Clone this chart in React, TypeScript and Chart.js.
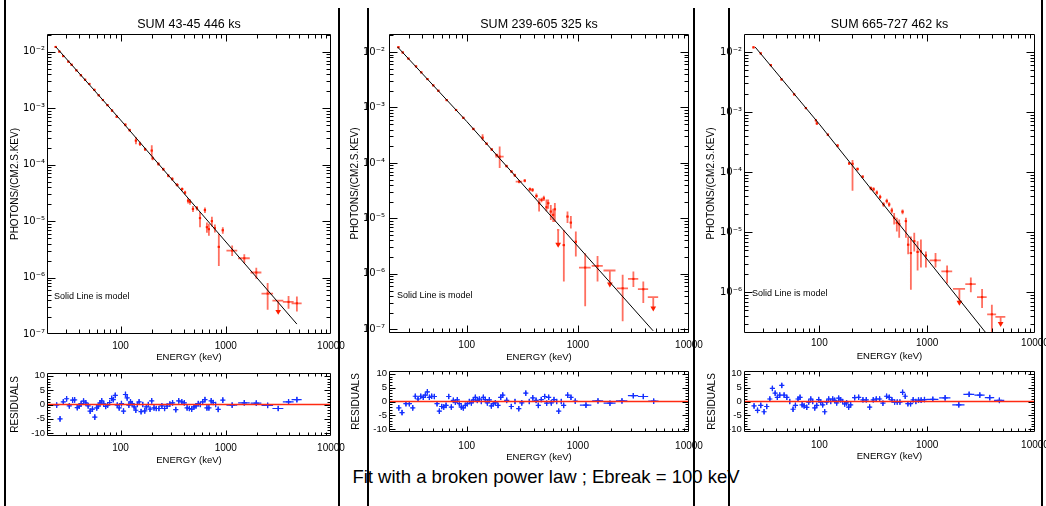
import React, { useEffect, useRef } from "react";
import { Chart, registerables } from "chart.js";

Chart.register(...registerables);

const FONT = '"Liberation Sans", Arial, Helvetica, sans-serif';
const SUP_FONT = '"DejaVu Sans", "Liberation Sans", sans-serif';
const RED = "#ff1e00";
const RED_BAR = "rgba(255,55,35,0.72)";
const BLUE = "#1530ff";
const ZERO_RED = "#ff2a12";

// ---------- shared axis data ----------
const energyRange = [20, 10000];
const residualRange = [-11, 11];
const xTickValues = [100, 1000, 10000];
const xTickLabels = ["100", "1000", "10000"];
const specYTickValues = [1e-7, 1e-6, 1e-5, 1e-4, 1e-3, 1e-2];
const specYTickLabels = ["10⁻⁷", "10⁻⁶", "10⁻⁵", "10⁻⁴", "10⁻³", "10⁻²"];
const resYTickValues = [-10, -5, 0, 5, 10];
const resYTickLabels = ["-10", "-5", "0", "5", "10"];
const zeroLineE = [20, 10000];
const zeroLineR = [0, 0];
const RES_SIGMA = 1;

const panelTitles = ["SUM 43-45 446 ks", "SUM 239-605 325 ks", "SUM 665-727 462 ks"];
const footerText = "Fit with a broken power law ; Ebreak = 100 keV";
const modelNote = "Solid Line is model";
const xAxisTitle = "ENERGY (keV)";
const specYAxisTitle = "PHOTONS/(CM2.S.KEV)";
const resYAxisTitle = "RESIDUALS";

// ---------- panel 1 : SUM 43-45 ----------
const p1FluxRange = [1e-7, 2.07e-2];
const p1ModelE = [24.2, 100, 4740];
const p1ModelF = [1.23e-2, 6.2e-4, 1.5e-7];
const p1SpecE = [24.2, 26.2, 28.5, 31.9, 34.3, 38, 42, 46, 50.5, 56.4, 62, 68, 75, 83, 92, 111, 122, 140, 153, 171, 198, 202, 229, 255, 284, 310, 345, 385, 410, 438, 457, 488, 532, 569, 634, 662, 691, 738, 788, 859, 937, 1150, 1500, 1950, 2500, 3950, 4740];
const p1SpecDE = [0.6, 0.7, 0.7, 0.8, 0.9, 1.0, 1.1, 1.2, 1.3, 1.4, 1.6, 1.7, 1.9, 2.1, 2.3, 2.8, 3.1, 3.5, 3.8, 4.3, 5, 5, 5.7, 6.4, 7, 8, 12, 9.6, 10, 11, 11, 12, 13, 14, 16, 16, 17, 18, 19, 21, 23, 135, 190, 230, 315, 465, 520];
const p1SpecF = [1.22e-2, 1.01e-2, 8.4e-3, 6.7e-3, 5.9e-3, 4.7e-3, 3.85e-3, 3.2e-3, 2.7e-3, 2.12e-3, 1.7e-3, 1.4e-3, 1.14e-3, 9.1e-4, 7.1e-4, 5.1e-4, 4.1e-4, 2.67e-4, 2.34e-4, 1.88e-4, 1.78e-4, 1.3e-4, 1.03e-4, 8.3e-5, 6.4e-5, 5.6e-5, 4.4e-5, 3.7e-5, 3.2e-5, 2.3e-5, 2.2e-5, 1.64e-5, 1.7e-5, 1.13e-5, 1.57e-5, 7.8e-6, 7.2e-6, 1.0e-5, 7.5e-6, 3.5e-6, 6.9e-6, 3.0e-6, 2.2e-6, 1.23e-6, 5.2e-7, 3.7e-7, 3.5e-7];
const p1SpecLo = [1.18e-2, 0.98e-2, 8.15e-3, 6.5e-3, 5.7e-3, 4.55e-3, 3.72e-3, 3.08e-3, 2.6e-3, 2.03e-3, 1.63e-3, 1.34e-3, 1.09e-3, 8.6e-4, 6.7e-4, 4.8e-4, 3.85e-4, 2.3e-4, 2.15e-4, 1.75e-4, 1.4e-4, 1.2e-4, 0.96e-4, 7.8e-5, 6.0e-5, 5.2e-5, 4.1e-5, 3.45e-5, 2.95e-5, 2.05e-5, 1.95e-5, 1.45e-5, 1.55e-5, 7.8e-6, 1.4e-5, 6.2e-6, 5.5e-6, 8.0e-6, 6.3e-6, 1.6e-6, 6.0e-6, 2.4e-6, 1.8e-6, 0.95e-6, 2.7e-7, 2.8e-7, 2.5e-7];
const p1SpecHi = [1.26e-2, 1.04e-2, 8.65e-3, 6.9e-3, 6.1e-3, 4.85e-3, 3.98e-3, 3.32e-3, 2.8e-3, 2.21e-3, 1.77e-3, 1.46e-3, 1.19e-3, 9.6e-4, 7.5e-4, 5.4e-4, 4.35e-4, 3.1e-4, 2.55e-4, 2.0e-4, 2.2e-4, 1.4e-4, 1.1e-4, 8.8e-5, 6.8e-5, 6.0e-5, 4.7e-5, 3.95e-5, 3.45e-5, 2.55e-5, 2.45e-5, 1.85e-5, 1.85e-5, 1.45e-5, 1.75e-5, 9.5e-6, 9.0e-6, 1.2e-5, 8.7e-6, 5.9e-6, 7.8e-6, 3.7e-6, 2.6e-6, 1.5e-6, 8.0e-7, 4.7e-7, 4.6e-7];
const p1UlE = [3150];
const p1UlDE = [375];
const p1UlF = [3.9e-7];
const p1UlTip = [2.5e-7];
const p1ResE = [24.7, 26.6, 28.6, 30.7, 32.6, 35.0, 36.6, 38.8, 40.5, 42.2, 44.5, 46.8, 49.2, 51.4, 54.1, 56.9, 59.4, 61.5, 63.8, 66.2, 69.2, 72.2, 75.4, 78.7, 82.2, 85.3, 89.1, 93.1, 97.1, 102, 106.7, 111.4, 115.6, 119.9, 124.3, 128.9, 134.6, 139.6, 144.6, 150, 156.7, 162.5, 169.8, 175.9, 183.7, 190.5, 197.6, 208, 218.6, 231.6, 247, 262, 277, 294, 312, 335, 357, 382, 404, 429, 451, 474, 499, 521, 548, 573, 602, 634, 662, 691, 727, 760, 800, 847, 937, 1150, 1500, 1950, 2500, 3150, 3950, 4740];
const p1ResR = [-0.2, -5.0, 0.9, 2.0, -0.5, 1.5, 1.6, -1.1, -0.6, 0.3, 1.2, 0.6, -0.5, -2.3, -1.6, -4.4, -1.2, -0.6, 0.6, 1.3, 0.2, -0.7, -0.2, 0.7, 2.1, 1.7, 3.2, -0.2, -1.2, 0.3, -2.3, 3.5, 2.3, -0.2, 0.9, 0.3, -0.8, -2.0, 0, 0.9, -2.5, 0, -2.2, -0.8, 0, -1.6, 1.3, -1.2, -1.4, -1.4, -0.5, -1.4, -0.6, 0.1, 0.6, -1.8, 1.3, 0.9, 0.6, -1.2, -1.4, -1.6, -0.8, -0.5, 0.3, 0, 0.9, 1.7, -1.2, -1.2, 1.3, 0.7, 0, -1.7, 1.5, -0.2, 0.6, 0.5, -0.3, -1.4, 0.9, 1.7];
const p1ResDE = [0.6, 0.7, 0.7, 0.8, 0.8, 0.9, 0.9, 1.0, 1.0, 1.1, 1.1, 1.2, 1.2, 1.3, 1.4, 1.4, 1.5, 1.5, 1.6, 1.7, 1.7, 1.8, 1.9, 2.0, 2.1, 2.1, 2.2, 2.3, 2.4, 2.6, 2.7, 2.8, 2.9, 3.0, 3.1, 3.2, 3.4, 3.5, 3.6, 3.8, 3.9, 4.1, 4.2, 4.4, 4.6, 4.8, 4.9, 5.2, 5.5, 5.8, 6.2, 6.6, 6.9, 7.4, 7.8, 8.4, 8.9, 9.6, 10, 11, 11, 12, 12, 13, 14, 14, 15, 16, 17, 17, 18, 19, 20, 21, 23, 135, 190, 230, 315, 375, 465, 520];

// ---------- panel 2 : SUM 239-605 ----------
const p2FluxRange = [8.6e-8, 2.11e-2];
const p2ModelE = [23.9, 100, 4760];
const p2ModelF = [1.23e-2, 5.6e-4, 9.4e-8];
const p2SpecE = [24.3, 26.6, 29.9, 35.0, 39, 44.3, 50, 55.6, 66.1, 80.2, 93.3, 114.8, 139, 151, 168, 186, 198, 228, 253, 271, 296, 333, 370, 391, 424, 448, 471, 494, 522, 541, 571, 600, 621, 748, 807, 865, 959, 1164, 1504, 2530, 3160, 3880];
const p2SpecDE = [0.6, 0.7, 0.8, 0.9, 1.0, 1.1, 1.3, 1.4, 1.7, 2.0, 2.3, 2.9, 3.5, 3.8, 4.2, 4.7, 17, 5.7, 6.3, 6.8, 20, 8.3, 9.3, 9.8, 10.6, 11, 12, 12, 13, 14, 14, 15, 16, 19, 20, 22, 24, 140, 172, 295, 335, 410];
const p2SpecF = [1.22e-2, 9.8e-3, 7.6e-3, 5.5e-3, 4.3e-3, 3.25e-3, 2.5e-3, 2.0e-3, 1.36e-3, 9.0e-4, 6.5e-4, 4.1e-4, 2.85e-4, 2.22e-4, 1.75e-4, 1.39e-4, 1.3e-4, 8.8e-5, 7.0e-5, 6.0e-5, 4.6e-5, 4.8e-5, 3.36e-5, 3.27e-5, 2.54e-5, 1.88e-5, 2.15e-5, 2.3e-5, 1.59e-5, 1.88e-5, 1.33e-5, 1.16e-5, 1.46e-5, 3.3e-6, 1.08e-5, 8.4e-6, 3.8e-6, 1.3e-6, 1.39e-6, 5.5e-7, 8.1e-7, 5.3e-7];
const p2SpecLo = [1.17e-2, 0.94e-2, 7.3e-3, 5.3e-3, 4.13e-3, 3.12e-3, 2.4e-3, 1.92e-3, 1.3e-3, 8.6e-4, 6.2e-4, 3.9e-4, 2.55e-4, 2.1e-4, 1.66e-4, 1.31e-4, 8.1e-5, 8.3e-5, 6.6e-5, 5.6e-5, 4.3e-5, 4.5e-5, 3.1e-5, 3.0e-5, 2.3e-5, 1.33e-5, 1.95e-5, 2.05e-5, 1.35e-5, 1.5e-5, 9.4e-6, 8.6e-6, 8.6e-6, 7.3e-7, 8.3e-6, 6.6e-6, 2.05e-6, 2.6e-7, 7.3e-7, 1.4e-7, 5.8e-7, 3.0e-7];
const p2SpecHi = [1.27e-2, 1.02e-2, 7.9e-3, 5.7e-3, 4.47e-3, 3.38e-3, 2.6e-3, 2.08e-3, 1.42e-3, 9.4e-4, 6.8e-4, 4.3e-4, 3.3e-4, 2.34e-4, 1.84e-4, 1.47e-4, 1.98e-4, 9.3e-5, 7.4e-5, 6.4e-5, 4.9e-5, 5.1e-5, 3.6e-5, 3.55e-5, 2.8e-5, 2.3e-5, 2.35e-5, 2.55e-5, 2.2e-5, 2.2e-5, 1.74e-5, 1.5e-5, 1.9e-5, 6.2e-6, 1.33e-5, 1.1e-5, 5.8e-6, 2.35e-6, 2.1e-6, 9.6e-7, 1.1e-6, 7.3e-7];
const p2UlE = [665, 1941, 4770];
const p2UlDE = [16, 240, 510];
const p2UlF = [6.2e-6, 1.15e-6, 3.8e-7];
const p2UlTip = [3.4e-6, 6.5e-7, 2.4e-7];
const p2ResE = [24.5, 26.2, 28.4, 30.5, 32.7, 34.5, 36.5, 38.6, 40.7, 42.5, 44.3, 46.2, 48.4, 51.2, 54.1, 56.8, 59.6, 62.1, 65.2, 68.9, 72.8, 75.9, 79.1, 82.4, 85.9, 89.5, 93.3, 97.3, 101.4, 105.7, 110.2, 114.8, 119.7, 124.7, 130, 135.5, 141.3, 147.2, 153.5, 160, 166.7, 173.8, 181.1, 191.4, 202.2, 210.9, 229, 252, 272, 294, 313, 340, 366, 393, 421, 441, 469, 503, 524, 546, 577, 610, 645, 672, 710, 745, 809, 867, 948, 1183, 1517, 1945, 2494, 3155, 3881, 4809];
const p2ResR = [-2.3, -4.0, -0.8, -0.8, -2.3, 1.9, 0.9, 1.9, 1.5, 2.3, 3.5, 1.5, 1.9, 1.8, -0.8, -3.5, -1.8, -2.0, -1.4, 1.8, -2.0, 0.4, -0.2, 0.6, -0.8, -2.0, -2.3, -1.4, -0.8, 0, -0.5, 0.6, 1.5, 0.4, 0.9, 0, 1.5, 0.7, -0.5, 0.6, -1.6, -0.8, -0.5, -1.4, 1.5, 2.3, 0.4, -1.8, 0, -2.6, -0.5, 3.0, 0, 1.3, 0.4, -1.4, 0.7, 1.8, -0.6, 1.5, -0.5, 0.7, 0, -3.5, 0, -1.4, 2.3, 1.5, 0.1, -1.3, 0.2, -0.6, 0.2, 2.1, 1.8, 0.1];
const p2ResDE = [0.6, 0.7, 0.7, 0.8, 0.8, 0.9, 0.9, 1.0, 1.0, 1.1, 1.1, 1.2, 1.2, 1.3, 1.4, 1.4, 1.5, 1.6, 1.7, 1.7, 1.8, 1.9, 2.0, 2.1, 2.2, 2.3, 2.3, 2.4, 2.5, 2.7, 2.8, 2.9, 3.0, 3.1, 3.3, 3.4, 3.5, 3.7, 3.8, 4.0, 4.2, 4.3, 4.5, 4.8, 5.0, 5.3, 5.7, 6.3, 6.8, 7.3, 7.8, 8.5, 9.2, 9.8, 10.5, 11, 12, 13, 13, 14, 14, 15, 16, 17, 18, 19, 20, 22, 24, 140, 172, 240, 295, 335, 410, 510];

// ---------- panel 3 : SUM 665-727 ----------
const p3FluxRange = [2.1e-7, 2.0e-2];
const p3ModelE = [25.4, 100, 4800];
const p3ModelF = [1.21e-2, 6.3e-4, 1.04e-7];
const p3SpecE = [24.5, 28.6, 35.5, 44.6, 58.3, 75, 92.9, 94.8, 120, 147.5, 189, 203, 226, 252, 300, 318, 341, 366, 394, 422, 444, 470, 494, 523, 550, 591, 635, 666, 706, 759, 815, 875, 973, 1195, 1530, 2540, 3230, 3980];
const p3SpecDE = [0.6, 0.7, 0.9, 1.1, 1.5, 1.9, 2.3, 2.4, 3.0, 3.7, 4.7, 5, 5.6, 6.3, 7.5, 8, 8.5, 9.1, 9.8, 10.5, 11, 12, 12, 13, 14, 15, 16, 17, 18, 19, 20, 22, 24, 143, 176, 283, 333, 380];
const p3SpecF = [1.2e-2, 9.5e-3, 6.05e-3, 3.5e-3, 1.98e-3, 1.17e-3, 7.3e-4, 6.5e-4, 4.2e-4, 2.77e-4, 1.4e-4, 1.38e-4, 1.13e-4, 8.4e-5, 5.4e-5, 5.2e-5, 4.57e-5, 3.87e-5, 2.9e-5, 3.3e-5, 2.9e-5, 2.3e-5, 1.74e-5, 1.44e-5, 1.36e-5, 2.2e-5, 1.53e-5, 6.2e-6, 4.5e-6, 7.1e-6, 4.7e-6, 4.8e-6, 4.1e-6, 3.4e-6, 2.23e-6, 1.37e-6, 8.3e-7, 4.3e-7];
const p3SpecLo = [1.15e-2, 9.1e-3, 5.8e-3, 3.35e-3, 1.9e-3, 1.12e-3, 7.0e-4, 6.1e-4, 4.0e-4, 2.6e-4, 1.32e-4, 4.9e-5, 1.06e-4, 7.9e-5, 5.0e-5, 4.8e-5, 4.2e-5, 3.55e-5, 2.65e-5, 3.0e-5, 2.65e-5, 2.05e-5, 1.35e-5, 1.03e-5, 8.1e-6, 2.0e-5, 8.1e-6, 4.3e-6, 1.1e-6, 4.8e-6, 2.3e-6, 2.6e-6, 2.6e-6, 2.6e-6, 1.4e-6, 1.0e-6, 5.5e-7, 2.0e-7];
const p3SpecHi = [1.25e-2, 9.9e-3, 6.3e-3, 3.65e-3, 2.06e-3, 1.22e-3, 7.6e-4, 6.9e-4, 4.4e-4, 2.95e-4, 1.48e-4, 1.6e-4, 1.2e-4, 8.9e-5, 5.8e-5, 5.6e-5, 4.95e-5, 4.2e-5, 3.15e-5, 3.6e-5, 3.15e-5, 2.55e-5, 2.1e-5, 1.74e-5, 1.63e-5, 2.4e-5, 1.74e-5, 8.5e-6, 8.5e-6, 9.8e-6, 7.1e-6, 7.6e-6, 4.8e-6, 4.5e-6, 2.8e-6, 1.77e-6, 1.14e-6, 6.2e-7];
const p3UlE = [1990, 4800];
const p3UlDE = [255, 507];
const p3UlF = [1.14e-6, 3.9e-7];
const p3UlTip = [6.8e-7, 3.0e-7];
const p3ResE = [24.8, 26.7, 28.6, 30.7, 32.5, 34.7, 36.7, 38.9, 40.8, 42.9, 44.8, 47.1, 49.9, 53.1, 57, 60, 63.4, 66.2, 69.2, 72.2, 76.4, 79.6, 83.2, 86.7, 90.6, 94.5, 98.6, 102.9, 107.3, 112, 117, 122, 127.4, 132.9, 138.7, 144.7, 151, 157.6, 164.4, 171.6, 179, 186.8, 195, 212.4, 231.3, 253.6, 272.4, 292.4, 316.2, 337.2, 362, 388.7, 420, 444.6, 470.9, 498.7, 527.6, 558.5, 591.2, 625.6, 662.3, 701, 741.5, 785, 831, 879, 944, 1128, 1467, 1964, 2449, 3076, 3804, 4677];
const p3ResR = [-1.6, -3.2, -1.4, -3.7, -1.8, 0.9, 4.7, 3.0, 1.5, 2.3, 5.8, 2.3, 1.5, 0, -2.8, -1.4, 0.9, 1.5, -1.2, -1.6, -2.1, -0.2, 0.9, 0, -2.3, -1.4, 0.7, -0.2, -1.2, -3.7, -0.2, 0.9, 0, 0.9, 0.4, -0.5, 1.2, 0.6, 0, -0.9, -0.5, -2.0, -1.2, 1.4, 1.5, 0.6, 0.6, -2.0, 0.6, 0.9, 0.9, -0.6, 1.9, 1.5, 0.6, -0.2, -0.2, -0.2, 3.3, 1.9, -0.8, -0.8, 0.6, 0, 0.5, 0.5, 0.7, 0.8, 1.3, -1.2, 2.6, 2.3, 1.4, 0.4];
const p3ResDE = [0.6, 0.7, 0.7, 0.8, 0.8, 0.9, 0.9, 1.0, 1.0, 1.1, 1.1, 1.2, 1.2, 1.3, 1.4, 1.5, 1.6, 1.7, 1.7, 1.8, 1.9, 2.0, 2.1, 2.2, 2.3, 2.4, 2.5, 2.6, 2.7, 2.8, 2.9, 3.1, 3.2, 3.3, 3.5, 3.6, 3.8, 3.9, 4.1, 4.3, 4.5, 4.7, 4.9, 5.3, 5.8, 6.3, 6.8, 7.3, 7.9, 8.4, 9.1, 9.7, 10.5, 11, 12, 12.5, 13, 14, 15, 16, 17, 18, 19, 20, 21, 22, 24, 143, 176, 255, 283, 333, 380, 507];

// ---------- helpers ----------
const pairs = (xs: number[], ys: number[]) => {
  const n = Math.min(xs.length, ys.length);
  const out: { x: number; y: number }[] = [];
  for (let i = 0; i < n; i++) out.push({ x: xs[i], y: ys[i] });
  return out;
};

function makeFramePlugin(t: { xMaj: number; xMin: number; yMaj: number; yMin: number; linearY: boolean }) {
  return {
    id: "idlFrame",
    afterDraw(chart: any) {
      const { ctx, chartArea: a } = chart;
      const xs = chart.scales.x;
      const ys = chart.scales.y;
      const L = Math.round(a.left) + 0.5;
      const R = Math.round(a.right) - 0.5;
      const T = Math.round(a.top) + 0.5;
      const B = Math.round(a.bottom) - 0.5;
      ctx.save();
      ctx.strokeStyle = "#000";
      ctx.lineWidth = 1;
      ctx.beginPath();
      ctx.rect(L, T, R - L, B - T);
      for (let k = 1; k <= 4; k++) {
        for (let m = 1; m <= 9; m++) {
          const v = m * Math.pow(10, k);
          if (v <= xs.min || v >= xs.max) continue;
          const px = Math.round(xs.getPixelForValue(v)) + 0.5;
          const len = m === 1 ? t.xMaj : t.xMin;
          ctx.moveTo(px, B);
          ctx.lineTo(px, B - len);
          ctx.moveTo(px, T);
          ctx.lineTo(px, T + len);
        }
      }
      const yv: { v: number; major: boolean }[] = [];
      if (t.linearY) {
        for (let v = -10; v <= 10; v++) yv.push({ v, major: v % 5 === 0 });
      } else {
        for (let k = -8; k <= -1; k++) for (let m = 1; m <= 9; m++) yv.push({ v: m * Math.pow(10, k), major: m === 1 });
      }
      for (const { v, major } of yv) {
        if (v <= ys.min || v >= ys.max) continue;
        const py = Math.round(ys.getPixelForValue(v)) + 0.5;
        const len = major ? t.yMaj : t.yMin;
        ctx.moveTo(L, py);
        ctx.lineTo(L + len, py);
        ctx.moveTo(R, py);
        ctx.lineTo(R - len, py);
      }
      ctx.stroke();
      ctx.restore();
    },
  };
}

type BarSet = { e: number[]; de: number[]; mid: number[]; lo: number[]; hi: number[]; color: string; width: number };

function makeErrorBarPlugin(sets: BarSet[]) {
  return {
    id: "errorBars",
    beforeDatasetsDraw(chart: any) {
      const { ctx, chartArea: a } = chart;
      const xs = chart.scales.x;
      const ys = chart.scales.y;
      ctx.save();
      ctx.beginPath();
      ctx.rect(a.left, a.top, a.right - a.left, a.bottom - a.top);
      ctx.clip();
      for (const s of sets) {
        ctx.strokeStyle = s.color;
        ctx.lineWidth = s.width;
        ctx.beginPath();
        const n = Math.min(s.e.length, s.de.length, s.mid.length, s.lo.length, s.hi.length);
        for (let i = 0; i < n; i++) {
          const x = xs.getPixelForValue(s.e[i]);
          const x0 = xs.getPixelForValue(s.e[i] - s.de[i]);
          const x1 = xs.getPixelForValue(s.e[i] + s.de[i]);
          const y = ys.getPixelForValue(s.mid[i]);
          const y0 = ys.getPixelForValue(s.lo[i]);
          const y1 = ys.getPixelForValue(s.hi[i]);
          ctx.moveTo(x0, y);
          ctx.lineTo(x1, y);
          ctx.moveTo(x, y0);
          ctx.lineTo(x, y1);
        }
        ctx.stroke();
      }
      ctx.restore();
    },
  };
}

const font = (size: number, family: string = FONT) => ({ family, size, weight: "normal" as const, lineHeight: 1.2 });

type Lay = {
  left: number; top: number; width: number; height: number;
  padT: number; padR: number; yW: number; xH: number;
  xTickPad: number; yTickPad: number; xTitlePadB: number; yTitlePadT: number;
};

function xScale(L: Lay) {
  return {
    type: "logarithmic",
    position: "bottom",
    min: energyRange[0],
    max: energyRange[1],
    grid: { display: false, drawTicks: false, tickLength: 0 },
    border: { display: false },
    ticks: {
      font: font(10),
      color: "#000",
      padding: L.xTickPad,
      maxRotation: 0,
      minRotation: 0,
      autoSkip: false,
      callback: (v: number) => {
        const i = xTickValues.indexOf(v);
        return i >= 0 ? xTickLabels[i] : "";
      },
    },
    afterBuildTicks: (s: any) => {
      s.ticks = xTickValues.filter((v) => v >= s.min && v <= s.max).map((v) => ({ value: v }));
    },
    afterFit: (s: any) => {
      s.height = L.xH;
    },
    title: { display: true, text: xAxisTitle, font: font(9.5), color: "#000", padding: { top: 0, bottom: L.xTitlePadB } },
  };
}

type SpecData = {
  title: string; range: number[];
  modelE: number[]; modelF: number[];
  e: number[]; de: number[]; f: number[]; lo: number[]; hi: number[];
  ulE: number[]; ulDE: number[]; ulF: number[]; ulTip: number[];
};

function specConfig(d: SpecData, L: Lay) {
  return {
    type: "scatter",
    data: {
      datasets: [
        { label: "model", data: pairs(d.modelE, d.modelF), showLine: true, borderColor: "#000", borderWidth: 1, pointRadius: 0, fill: false },
        { label: "data", data: pairs(d.e, d.f), pointStyle: "rect", pointRadius: 1.5, backgroundColor: RED, borderColor: RED, borderWidth: 0 },
        { label: "upper limits", data: pairs(d.ulE, d.ulTip), pointStyle: "triangle", pointRotation: 180, pointRadius: 3.3, backgroundColor: RED, borderColor: RED, borderWidth: 0 },
      ],
    },
    options: {
      responsive: false,
      animation: false,
      events: [],
      layout: { padding: { left: 0, right: L.padR, top: L.padT, bottom: 0 }, autoPadding: false },
      plugins: {
        legend: { display: false },
        tooltip: { enabled: false },
        title: { display: true, text: d.title, fullSize: false, font: font(12.5), color: "#000", padding: { top: 17.5, bottom: 1.5 } },
      },
      scales: {
        x: xScale(L),
        y: {
          type: "logarithmic",
          position: "left",
          min: d.range[0],
          max: d.range[1],
          grid: { display: false, drawTicks: false, tickLength: 0 },
          border: { display: false },
          ticks: {
            font: font(10, SUP_FONT),
            color: "#000",
            padding: L.yTickPad,
            autoSkip: false,
            callback: (v: number) => {
              const i = specYTickValues.indexOf(v);
              return i >= 0 ? specYTickLabels[i] : "";
            },
          },
          afterBuildTicks: (s: any) => {
            s.ticks = specYTickValues.filter((v) => v >= s.min && v <= s.max).map((v) => ({ value: v }));
          },
          afterFit: (s: any) => {
            s.width = L.yW;
          },
          title: { display: true, text: specYAxisTitle, font: font(10), color: "#000", padding: { top: L.yTitlePadT, bottom: 0 } },
        },
      },
    },
    plugins: [
      makeErrorBarPlugin([
        { e: d.e, de: d.de, mid: d.f, lo: d.lo, hi: d.hi, color: RED_BAR, width: 1.8 },
        { e: d.ulE, de: d.ulDE, mid: d.ulF, lo: d.ulTip, hi: d.ulF, color: RED_BAR, width: 1.8 },
      ]),
      makeFramePlugin({ xMaj: 7, xMin: 4, yMaj: 8, yMin: 4, linearY: false }),
    ],
  };
}

type ResData = { e: number[]; de: number[]; r: number[] };

function resConfig(d: ResData, L: Lay) {
  return {
    type: "scatter",
    data: {
      datasets: [
        { label: "zero", data: pairs(zeroLineE, zeroLineR), showLine: true, borderColor: ZERO_RED, borderWidth: 1.6, pointRadius: 0, fill: false },
        { label: "residuals", data: pairs(d.e, d.r), pointStyle: "cross", pointRadius: 2.6, borderColor: BLUE, pointBorderColor: BLUE, borderWidth: 1.2, pointBorderWidth: 1.2, backgroundColor: BLUE },
      ],
    },
    options: {
      responsive: false,
      animation: false,
      events: [],
      layout: { padding: { left: 0, right: L.padR, top: L.padT, bottom: 0 }, autoPadding: false },
      plugins: { legend: { display: false }, tooltip: { enabled: false }, title: { display: false } },
      scales: {
        x: xScale(L),
        y: {
          type: "linear",
          position: "left",
          min: residualRange[0],
          max: residualRange[1],
          grid: { display: false, drawTicks: false, tickLength: 0 },
          border: { display: false },
          ticks: {
            font: font(9.5),
            color: "#000",
            padding: L.yTickPad,
            autoSkip: false,
            callback: (v: number) => {
              const i = resYTickValues.indexOf(v);
              return i >= 0 ? resYTickLabels[i] : "";
            },
          },
          afterBuildTicks: (s: any) => {
            s.ticks = resYTickValues.map((v) => ({ value: v }));
          },
          afterFit: (s: any) => {
            s.width = L.yW;
          },
          title: { display: true, text: resYAxisTitle, font: font(10), color: "#000", padding: { top: L.yTitlePadT, bottom: 0 } },
        },
      },
    },
    plugins: [
      makeErrorBarPlugin([
        { e: d.e, de: d.de, mid: d.r, lo: d.r.map((r) => r - RES_SIGMA), hi: d.r.map((r) => r + RES_SIGMA), color: BLUE, width: 1.2 },
      ]),
      makeFramePlugin({ xMaj: 5, xMin: 3, yMaj: 6, yMin: 3, linearY: true }),
    ],
  };
}

function ChartBox({ lay, make }: { lay: Lay; make: () => any }) {
  const ref = useRef<HTMLCanvasElement | null>(null);
  useEffect(() => {
    if (!ref.current) return;
    const chart = new Chart(ref.current, make());
    return () => chart.destroy();
  }, []);
  return (
    <canvas
      ref={ref}
      width={lay.width}
      height={lay.height}
      style={{ position: "absolute", left: lay.left, top: lay.top, width: lay.width, height: lay.height }}
    />
  );
}

// ---------- layout ----------
const specLay: Lay[] = [
  { left: 0, top: 0, width: 360, height: 365, padT: 0, padR: 29, yW: 47, xH: 31, xTickPad: 6, yTickPad: 2, xTitlePadB: 1.8, yTitlePadT: 9 },
  { left: 340, top: 0, width: 380, height: 365, padT: 0, padR: 31, yW: 49, xH: 32, xTickPad: 6, yTickPad: 4, xTitlePadB: 2.3, yTitlePadT: 9 },
  { left: 696, top: 0, width: 370, height: 365, padT: 0, padR: 31, yW: 48, xH: 32, xTickPad: 4, yTickPad: 2, xTitlePadB: 2.6, yTitlePadT: 9.7 },
];
const resLay: Lay[] = [
  { left: 0, top: 358, width: 360, height: 108, padT: 15, padR: 29, yW: 47, xH: 30, xTickPad: 6, yTickPad: 2, xTitlePadB: 0.3, yTitlePadT: 9 },
  { left: 340, top: 356, width: 380, height: 110, padT: 15, padR: 31, yW: 49, xH: 34, xTickPad: 8.7, yTickPad: 2, xTitlePadB: 2.6, yTitlePadT: 10.7 },
  { left: 696, top: 356, width: 370, height: 110, padT: 15, padR: 31, yW: 48, xH: 34, xTickPad: 7, yTickPad: 2.3, xTitlePadB: 3.6, yTitlePadT: 10.7 },
];

const specData: SpecData[] = [
  { title: panelTitles[0], range: p1FluxRange, modelE: p1ModelE, modelF: p1ModelF, e: p1SpecE, de: p1SpecDE, f: p1SpecF, lo: p1SpecLo, hi: p1SpecHi, ulE: p1UlE, ulDE: p1UlDE, ulF: p1UlF, ulTip: p1UlTip },
  { title: panelTitles[1], range: p2FluxRange, modelE: p2ModelE, modelF: p2ModelF, e: p2SpecE, de: p2SpecDE, f: p2SpecF, lo: p2SpecLo, hi: p2SpecHi, ulE: p2UlE, ulDE: p2UlDE, ulF: p2UlF, ulTip: p2UlTip },
  { title: panelTitles[2], range: p3FluxRange, modelE: p3ModelE, modelF: p3ModelF, e: p3SpecE, de: p3SpecDE, f: p3SpecF, lo: p3SpecLo, hi: p3SpecHi, ulE: p3UlE, ulDE: p3UlDE, ulF: p3UlF, ulTip: p3UlTip },
];
const resData: ResData[] = [
  { e: p1ResE, de: p1ResDE, r: p1ResR },
  { e: p2ResE, de: p2ResDE, r: p2ResR },
  { e: p3ResE, de: p3ResDE, r: p3ResR },
];

const notePos = [
  { left: 54, top: 291 },
  { left: 397, top: 290 },
  { left: 752, top: 288 },
];

const frameLines = [
  { left: 4, top: 0 },
  { left: 338, top: 8 },
  { left: 367, top: 8 },
  { left: 693, top: 8 },
  { left: 728, top: 8 },
  { left: 1041, top: 0 },
];

export default function App() {
  return (
    <div style={{ position: "fixed", left: 0, top: 0, width: 1046, height: 506, overflow: "hidden", background: "#fff", fontFamily: FONT }}>
      {frameLines.map((l, i) => (
        <div key={"l" + i} style={{ position: "absolute", left: l.left, top: l.top, width: 2, height: 506 - l.top, background: "#000" }} />
      ))}
      {specData.map((d, i) => (
        <ChartBox key={"s" + i} lay={specLay[i]} make={() => specConfig(d, specLay[i])} />
      ))}
      {resData.map((d, i) => (
        <ChartBox key={"r" + i} lay={resLay[i]} make={() => resConfig(d, resLay[i])} />
      ))}
      {notePos.map((p, i) => (
        <div key={"n" + i} style={{ position: "absolute", left: p.left, top: p.top, fontSize: 9, lineHeight: "11px", color: "#000", whiteSpace: "nowrap" }}>
          {modelNote}
        </div>
      ))}
      <div style={{ position: "absolute", left: 296, top: 466, width: 500, textAlign: "center", fontSize: 18.5, lineHeight: "22px", color: "#000", whiteSpace: "nowrap" }}>
        {footerText}
      </div>
    </div>
  );
}
